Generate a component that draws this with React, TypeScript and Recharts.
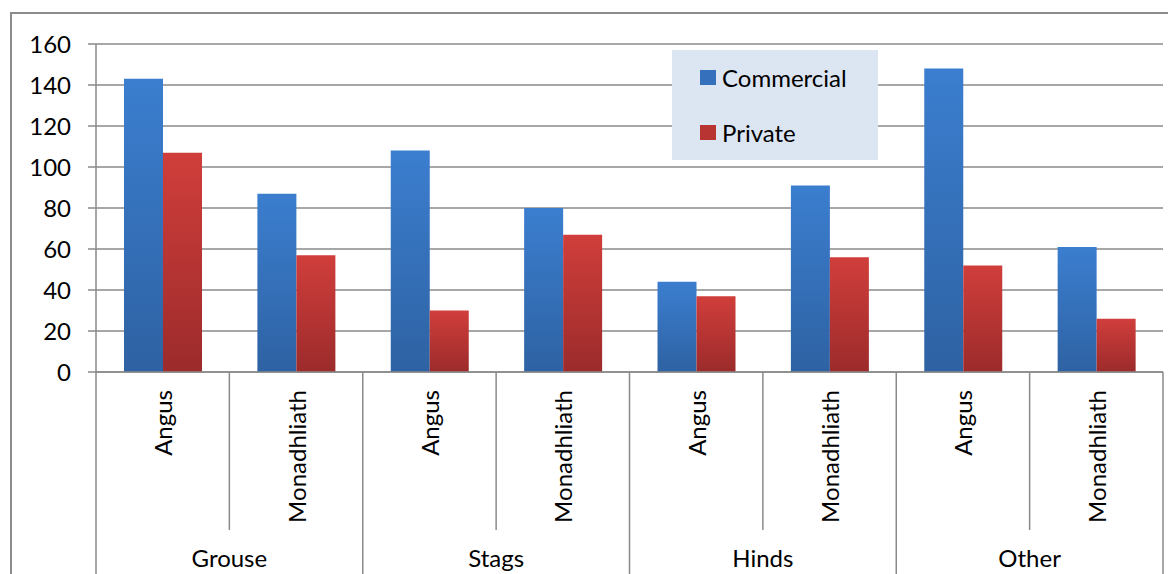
import { Bar, BarChart, CartesianGrid, Legend, XAxis, YAxis } from "recharts";

const GROUPS = ["Grouse", "Stags", "Hinds", "Other"];
const AREAS = ["Angus", "Monadhliath"];
const COMMERCIAL = [143, 87, 108, 80, 44, 91, 148, 61];
const PRIVATE = [107, 57, 30, 67, 37, 56, 52, 26];
const Y_TICKS = [0, 20, 40, 60, 80, 100, 120, 140, 160];

const W = 1168;
const H = 566;
const MARGIN = { top: 36, right: 13, bottom: 0, left: 0 };
const Y_AXIS_W = 88;
const X_AXIS_H = 202;
const FONT = "Lato, 'Open Sans', sans-serif";
const FONT_SIZE = 24;
const GRID = "#8a8a8a";

const data = GROUPS.flatMap((g, gi) =>
  AREAS.map((a, ai) => {
    const i = gi * AREAS.length + ai;
    return { key: `${g}-${a}`, group: g, area: a, commercial: COMMERCIAL[i], private: PRIVATE[i] };
  })
);

const BAND = (W - MARGIN.left - MARGIN.right - Y_AXIS_W) / data.length;

function CategoryTick(props: any) {
  const { x, y, index } = props;
  const d = data[index];
  const left = x - BAND / 2;
  const groupStart = index % AREAS.length === 0;
  const last = index === data.length - 1;
  return (
    <g>
      <line x1={left} x2={left} y1={y} y2={groupStart ? y + 220 : y + 158} stroke={GRID} strokeWidth={1.5} />
      {last && <line x1={x + BAND / 2} x2={x + BAND / 2} y1={y} y2={y + 220} stroke={GRID} strokeWidth={1.5} />}
      <text
        transform={`translate(${x},${y + 18}) rotate(-90)`}
        textAnchor="end"
        dominantBaseline="central"
        fontFamily={FONT}
        fontSize={FONT_SIZE}
        fill="#000"
      >
        {d.area}
      </text>
      {index % AREAS.length === AREAS.length - 1 && (
        <text x={left} y={y + 195} textAnchor="middle" fontFamily={FONT} fontSize={FONT_SIZE} fill="#000">
          {d.group}
        </text>
      )}
    </g>
  );
}

function LegendBox() {
  const items = ["Commercial", "Private"];
  return (
    <div style={{ width: 206, height: 110, background: "#dce6f2", position: "relative" }}>
      {items.map((name, i) => (
        <div
          key={name}
          style={{
            position: "absolute",
            left: 28,
            top: 13 + i * 55,
            display: "flex",
            alignItems: "center",
            fontFamily: FONT,
            fontSize: FONT_SIZE,
            color: "#000",
          }}
        >
          <svg width={16} height={15} style={{ marginRight: 6 }}>
            <rect width={16} height={15} fill={i === 0 ? "#3470bb" : "#b83433"} />
          </svg>
          {name}
        </div>
      ))}
    </div>
  );
}

export default function App() {
  return (
    <div style={{ position: "relative", width: W, height: H, overflow: "hidden" }}>
      <div
        style={{
          position: "absolute",
          left: 2,
          top: 4,
          width: W + 20,
          height: H + 20,
          border: "2px solid #8c8c8c",
          boxSizing: "border-box",
        }}
      />
      <BarChart
        width={W}
        height={H}
        data={data}
        margin={MARGIN}
        barCategoryGap="21%"
        barGap={0}
        style={{ position: "absolute", left: 0, top: 0 }}
      >
        <defs>
          <linearGradient id="gradCommercial" x1="0" y1="0" x2="0" y2="1">
            <stop offset="0%" stopColor="#3b7ecf" />
            <stop offset="100%" stopColor="#2e62a3" />
          </linearGradient>
          <linearGradient id="gradPrivate" x1="0" y1="0" x2="0" y2="1">
            <stop offset="0%" stopColor="#d03e3b" />
            <stop offset="100%" stopColor="#9c2b2b" />
          </linearGradient>
        </defs>
        <CartesianGrid vertical={false} stroke={GRID} strokeWidth={1.5} />
        <XAxis
          dataKey="key"
          interval={0}
          height={X_AXIS_H}
          tickLine={false}
          tickSize={0}
          tickMargin={0}
          axisLine={{ stroke: GRID, strokeWidth: 1.5 }}
          tick={<CategoryTick />}
        />
        <YAxis
          width={Y_AXIS_W}
          domain={[0, 160]}
          ticks={Y_TICKS}
          interval={0}
          tickSize={8}
          tickMargin={17}
          axisLine={{ stroke: GRID, strokeWidth: 1.5 }}
          tickLine={{ stroke: GRID, strokeWidth: 1.5 }}
          tick={{ fontFamily: FONT, fontSize: FONT_SIZE, fill: "#000" }}
        />
        <Legend
          layout="vertical"
          align="center"
          verticalAlign="middle"
          content={<LegendBox />}
          wrapperStyle={{ left: 664, top: 42, width: 206, height: 110 }}
        />
        <Bar dataKey="commercial" name="Commercial" fill="url(#gradCommercial)" isAnimationActive={false} />
        <Bar dataKey="private" name="Private" fill="url(#gradPrivate)" isAnimationActive={false} />
      </BarChart>
    </div>
  );
}
